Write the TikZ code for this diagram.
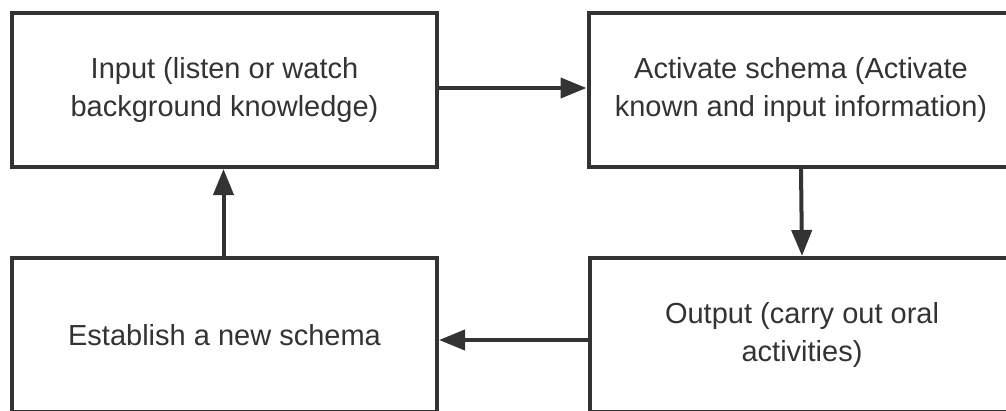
\documentclass[tikz,border=0pt]{standalone}
\usepackage{fontspec}
\setmainfont{Liberation Sans}
\usetikzlibrary{arrows.meta}
\definecolor{ink}{HTML}{333333}
\tikzset{
  box/.style={draw=ink, line width=4pt, minimum width=425pt, minimum height=154pt, inner sep=0pt, align=center, text=ink, font=\fontsize{29}{38}\selectfont},
  arr/.style={draw=ink, line width=4pt, -{Triangle[length=26pt,width=20pt]}}
}
\begin{document}
\begin{tikzpicture}[x=1pt,y=-1pt]
\useasboundingbox (0,0) rectangle (1006,410);
\clip (0,0) rectangle (1006,410);
\node[box] (tl) at (224.5,90) {Input (listen or watch\\background knowledge)};
\node[box] (tr) at (801,90) {Activate schema (Activate\\known and input information)};
\node[box] (bl) at (224.5,335) {Establish a new schema};
\node[box] (br) at (802,335) {Output (carry out oral\\activities)};
\draw[arr] ([yshift=2pt]tl.east) -- ([yshift=2pt]tr.west);
\draw[arr] (tr.south) -- (br.north);
\draw[arr] ([yshift=-5pt]br.west) -- ([yshift=-5pt]bl.east);
\draw[arr] ([xshift=-1pt]bl.north) -- ([xshift=-1pt]tl.south);
\end{tikzpicture}
\end{document}
